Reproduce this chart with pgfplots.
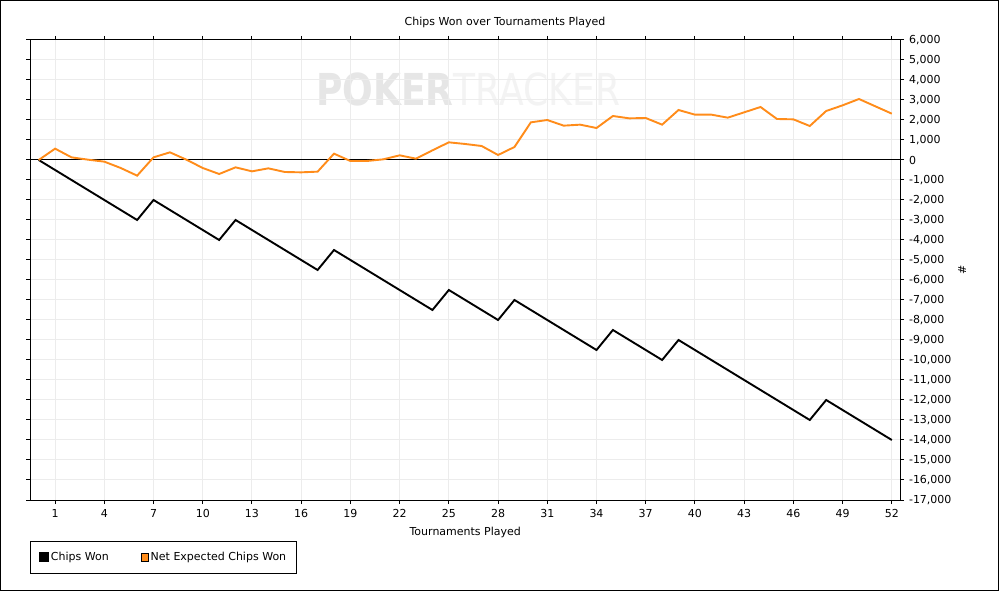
\documentclass[border=0pt]{standalone}
\usepackage{fontspec}
\setmainfont{DejaVu Sans}
\usepackage{pgfplots}
\usepackage{pgfplotstable}
\pgfplotsset{compat=1.18}
\definecolor{orangeline}{RGB}{255,140,26}
\definecolor{gridgray}{RGB}{236,236,236}
\definecolor{wmdark}{RGB}{230,230,230}
\definecolor{wmlight}{RGB}{243,243,243}
\pgfplotstableread{
x chips net
0 0 0
1 -500 567
2 -1000 133
3 -1500 17
4 -2000 -83
5 -2500 -400
6 -3000 -783
7 -2000 133
8 -2500 383
9 -3000 17
10 -3500 -400
11 -4000 -700
12 -3000 -367
13 -3500 -567
14 -4000 -417
15 -4500 -600
16 -5000 -617
17 -5500 -583
18 -4500 317
19 -5000 -50
20 -5500 -50
21 -6000 33
22 -6500 233
23 -7000 67
24 -7500 483
25 -6500 883
26 -7000 800
27 -7500 700
28 -8000 250
29 -7000 650
30 -7500 1883
31 -8000 2000
32 -8500 1717
33 -9000 1767
34 -9500 1600
35 -8500 2200
36 -9000 2083
37 -9500 2100
38 -10000 1767
39 -9000 2500
40 -9500 2267
41 -10000 2267
42 -10500 2117
43 -11000 2383
44 -11500 2650
45 -12000 2050
46 -12500 2033
47 -13000 1700
48 -12000 2450
49 -12500 2733
50 -13000 3050
51 -13500 2683
52 -14000 2317
}\datatable
\begin{document}
\begin{tikzpicture}
\useasboundingbox (0bp,0bp) rectangle (999bp,591bp);
\fill[white] (0bp,0bp) rectangle (999bp,591bp);
\draw[line width=1bp] (0.5bp,0.5bp) rectangle (998.5bp,590.5bp);
\node[font=\fontsize{11bp}{13bp}\selectfont] at (505bp,569bp) {Chips Won over Tournaments Played};
\node[anchor=west, inner sep=0pt, xscale=0.82, font=\fontsize{44bp}{44bp}\bfseries\selectfont] at (316bp,502bp) {\textcolor{wmdark}{POKER}\textcolor{wmlight}{\mdseries TRACKER}};
\begin{axis}[
  at={(30.5bp,91bp)}, anchor=south west,
  scale only axis, width=869.5bp, height=460bp,
  xmin=-0.5, xmax=52.5, ymin=-17000, ymax=6000,
  xtick={1,4,...,52},
  ytick={-17000,-16000,...,6000},
  scaled y ticks=false,
  yticklabel pos=right,
  grid=major,
  major grid style={gridgray, line width=1bp},
  tick align=outside,
  major tick length=4bp,
  xtick style={black, line width=1bp},
  ytick style={black, line width=1bp},
  axis line style={black, line width=1bp},
  every tick label/.append style={font=\fontsize{11bp}{13bp}\selectfont},
  yticklabel style={anchor=west, xshift=1.5bp, /pgf/number format/fixed, /pgf/number format/1000 sep={,}},
  xticklabel style={yshift=-2bp},
  /pgf/number format/1000 sep={,},
  /pgf/number format/assume math mode=true,
  xlabel={Tournaments Played},
  ylabel={\#},
  label style={font=\fontsize{11bp}{13bp}\selectfont},
  xlabel style={yshift=-2bp},
  ylabel style={xshift=0bp},
  legend style={
    at={(axis description cs:0,-0.0891)}, anchor=north west,
    draw=black, line width=1bp,
    font=\fontsize{11bp}{13bp}\selectfont,
    legend columns=2,
    inner xsep=8bp, inner ysep=9bp,
    /tikz/every even column/.append style={column sep=30bp}
  },
  legend cell align=left,
]
\addplot[black, line width=1bp, forget plot] coordinates {(-0.5,0) (52.5,0)};
\addplot[black, line width=1.9bp, line join=miter,
  legend image code/.code={\fill[black] (0bp,-4bp) rectangle (8bp,4bp);}]
  table[x=x, y=chips] {\datatable};
\addlegendentry{Chips Won}
\addplot[orangeline, line width=1.9bp, line join=miter,
  legend image code/.code={\draw[black, line width=0.8bp, fill=orangeline] (0.4bp,-3.6bp) rectangle (7.6bp,3.6bp);}]
  table[x=x, y=net] {\datatable};
\addlegendentry{Net Expected Chips Won}
\end{axis}
\end{tikzpicture}
\end{document}
